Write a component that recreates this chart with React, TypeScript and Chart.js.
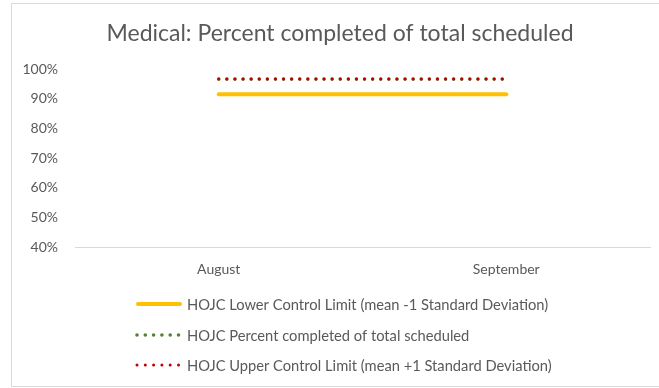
import { useEffect, useRef } from "react";
import { Chart, registerables } from "chart.js";

Chart.register(...registerables);

// Monthly values (percent)
const months = ["August", "September"];
const lowerControlLimit = [91.5, 91.5];
const percentCompleted = [96.6, 96.6];
const upperControlLimit = [96.6, 96.6];
const yTickValues = [40, 50, 60, 70, 80, 90, 100];

const seriesNames = [
  "HOJC Lower Control Limit (mean -1 Standard Deviation)",
  "HOJC Percent completed of total scheduled",
  "HOJC Upper Control Limit (mean +1 Standard Deviation)",
];
const chartTitle = "Medical: Percent completed of total scheduled";

const TEXT_COLOR = "#595959";
const FONT = "Lato, 'Open Sans', sans-serif";

// Title drawn centred over the chart frame
const titlePlugin = {
  id: "frameTitle",
  afterDraw(chart: any) {
    const ctx = chart.ctx;
    ctx.save();
    ctx.fillStyle = TEXT_COLOR;
    ctx.font = `23px ${FONT}`;
    ctx.textAlign = "center";
    ctx.textBaseline = "alphabetic";
    ctx.fillText(chartTitle, 340, 41);
    ctx.restore();
  },
};

// Legend stacked vertically, one series per row, left aligned
const stackedLegendPlugin = {
  id: "stackedLegend",
  afterDraw(chart: any) {
    const ctx = chart.ctx;
    const rowY = [305, 336, 366];
    chart.data.datasets.forEach((ds: any, i: number) => {
      const y = rowY[i];
      ctx.save();
      ctx.strokeStyle = ds.borderColor;
      ctx.lineWidth = ds.borderWidth;
      ctx.lineCap = "round";
      const dotted = Array.isArray(ds.borderDash) && ds.borderDash.length > 0;
      ctx.setLineDash(dotted ? [0, 8.3] : []);
      ctx.beginPath();
      ctx.moveTo(dotted ? 137 : 138, y - 1);
      ctx.lineTo(dotted ? 179 : 180, y - 1);
      ctx.stroke();
      ctx.restore();

      ctx.save();
      ctx.fillStyle = TEXT_COLOR;
      ctx.font = `14.7px ${FONT}`;
      ctx.textAlign = "left";
      ctx.textBaseline = "middle";
      ctx.fillText(ds.label, 187, y);
      ctx.restore();
    });
  },
};

export default function App() {
  const canvasRef = useRef<HTMLCanvasElement | null>(null);

  useEffect(() => {
    if (!canvasRef.current) return;
    const chart = new Chart(canvasRef.current, {
      type: "line",
      data: {
        labels: months,
        datasets: [
          {
            label: seriesNames[0],
            data: lowerControlLimit,
            borderColor: "#FFC000",
            borderWidth: 4,
            borderCapStyle: "round",
            pointRadius: 0,
            order: 0,
          },
          {
            label: seriesNames[1],
            data: percentCompleted,
            borderColor: "#548235",
            borderWidth: 3.6,
            borderDash: [0, 8.1],
            borderCapStyle: "round",
            pointRadius: 0,
            order: 2,
          },
          {
            label: seriesNames[2],
            data: upperControlLimit,
            borderColor: "#C00000",
            borderWidth: 3,
            borderDash: [0, 8.1],
            borderCapStyle: "round",
            pointRadius: 0,
            order: 1,
          },
        ],
      },
      options: {
        responsive: false,
        animation: false,
        events: [],
        layout: { padding: { top: 69, right: 9, bottom: 101, left: 0 } },
        plugins: {
          legend: { display: false },
          title: { display: false },
          tooltip: { enabled: false },
        },
        scales: {
          x: {
            offset: true,
            grid: { display: false },
            border: { display: true, color: "#D9D9D9", width: 1 },
            ticks: {
              color: TEXT_COLOR,
              font: { family: FONT, size: 14 },
              padding: 6,
            },
            afterFit(scale: any) {
              scale.height = 40;
            },
          },
          y: {
            min: 40,
            max: 100,
            grid: { display: false, drawTicks: false },
            border: { display: false },
            afterBuildTicks(scale: any) {
              scale.ticks = yTickValues.map((v) => ({ value: v }));
            },
            ticks: {
              color: TEXT_COLOR,
              font: { family: FONT, size: 14 },
              padding: 17,
              callback: (v: any) => `${v}%`,
            },
            afterFit(scale: any) {
              scale.width = 75;
            },
          },
        },
      },
      plugins: [titlePlugin, stackedLegendPlugin],
    });
    return () => chart.destroy();
  }, []);

  return (
    <div
      style={{
        position: "fixed",
        left: 0,
        top: 0,
        width: 659,
        height: 388,
        background: "#ffffff",
        overflow: "hidden",
      }}
    >
      <div
        style={{
          position: "absolute",
          left: 11,
          top: 3,
          width: 680,
          height: 384,
          border: "1px solid #D9D9D9",
          boxSizing: "border-box",
        }}
      />
      <canvas
        ref={canvasRef}
        width={659}
        height={388}
        style={{ position: "absolute", left: 0, top: 0 }}
      />
    </div>
  );
}
